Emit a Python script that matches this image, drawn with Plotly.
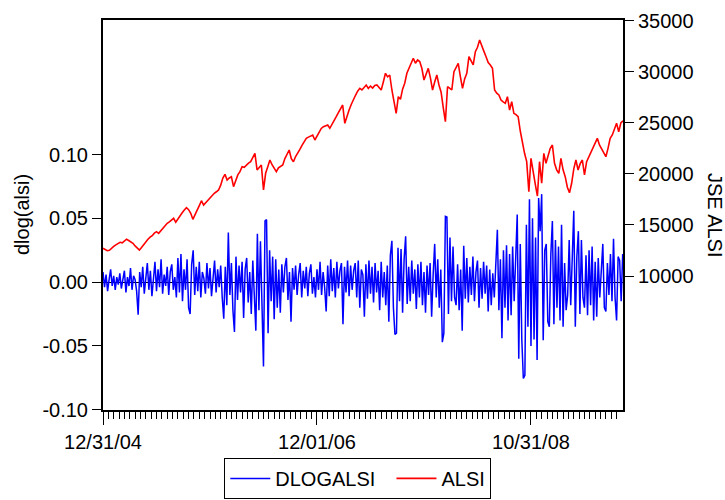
import pandas as pd
import plotly.graph_objects as go

# JSE All Share index, weekly closes from 31 Dec 2004
start_date = "2004-12-31"
alsi = [
    12715, 12600, 12480, 12520, 12750, 12900, 13050, 13150, 13300, 13250,
    13450, 13600, 13480, 13362, 13200, 12950, 12750, 12548, 12800, 13100,
    13362, 13600, 13800, 13950, 14200, 14340, 14184, 14450, 14650, 14900,
    15163, 15300, 15450, 15652, 15261, 15600, 15900, 16200, 16465, 16700,
    16500, 16142, 15555, 16100, 16450, 16900, 17375, 16955, 17200, 17450,
    17700, 17934, 18100, 18250, 18424, 18900, 19600, 19961, 19403, 19600,
    19726, 18747, 19300, 19900, 20216, 20705, 20650, 20900, 21050, 21195,
    21600, 22017, 20382, 20600, 20872, 18424, 20059, 20700, 21361, 20900,
    20500, 20216, 20600, 20700, 20872, 21500, 21851, 22340, 21500, 21195,
    21700, 22017, 22400, 22800, 23200, 23486, 23600, 23700, 23809, 23320,
    23700, 24100, 24450, 24622, 24700, 24788, 24465, 24900, 25300, 25601,
    26000, 26400, 26747, 24955, 25700, 26257, 26800, 27300, 27700, 28100,
    28377, 28216, 28500, 28705, 28377, 28600, 28400, 28650, 28705, 28500,
    28216, 29000, 29851, 29500, 29684, 28216, 27237, 25934, 27560, 27300,
    28300, 28872, 29851, 30300, 30900, 31320, 30830, 31153, 31000, 30340,
    29195, 29700, 30340, 29400, 28216, 29000, 29684, 28705, 28000, 26500,
    25112, 28539, 28400, 28216, 30008, 30500, 30830, 29518, 28377, 29300,
    29851, 31477, 31000, 30664, 31966, 32400, 33112, 32456, 32000, 31477,
    30900, 30664, 30340, 28216, 27900, 27726, 27237, 27050, 26913, 27560,
    26257, 27070, 25934, 25800, 25601, 24200, 23000, 22017, 21200, 18257,
    21528, 20059, 19000, 17836, 21195, 19080, 22017, 21038, 21800, 22500,
    22830, 21038, 20400, 20059, 21528, 20400, 19726, 18700, 18159, 19080,
    20500, 21361, 20382, 21000, 21361, 19894, 21200, 21684, 22200, 22663,
    23100, 23486, 22830, 22400, 22017, 21684, 22500, 23486, 23809, 24300,
    24955, 24132, 25000, 25200,
]

# log returns of the index, sampled every 5 days
dlogalsi = [
    0.008, -0.004, 0.006, -0.007, 0.002, 0.010, -0.003, 0.005, -0.006, 0.004,
    -0.002, 0.007, -0.005, 0.003, 0.009, -0.008, 0.004, -0.003, 0.011, -0.006,
    0.005, 0.002, -0.007, -0.0255, 0.008, -0.004, 0.012, -0.009, 0.006, 0.015,
    -0.006, 0.009, -0.011, 0.004, 0.016, -0.007, 0.010, -0.004, 0.018, -0.009,
    0.006, -0.003, 0.012, -0.010, 0.008, 0.014, -0.006, 0.004, -0.012, 0.019,
    -0.008, 0.022, -0.015, 0.010, -0.006, 0.018, -0.020, -0.025, 0.014, 0.025,
    -0.010, 0.012, -0.007, 0.016, -0.012, 0.008, 0.003, -0.009, 0.015, -0.005,
    0.011, -0.011, 0.006, 0.017, -0.008, 0.010, -0.004, 0.013, -0.012, -0.0287,
    0.012, -0.018, 0.039, -0.010, 0.015, -0.022, -0.039, 0.020, -0.014, 0.013,
    -0.008, 0.016, -0.028, 0.010, 0.019, -0.016, 0.008, -0.025, 0.017, -0.012,
    -0.038, 0.038, -0.022, 0.032, -0.030, -0.066, 0.048, 0.049, -0.040, 0.025,
    -0.015, 0.020, -0.029, 0.018, -0.020, 0.010, -0.024, 0.014, -0.008, 0.012,
    0.019, -0.014, 0.008, -0.031, 0.011, -0.006, 0.013, -0.010, 0.006, 0.015,
    -0.012, 0.009, -0.005, 0.012, -0.011, 0.007, 0.014, -0.009, 0.004, -0.012,
    0.010, -0.006, 0.016, -0.010, 0.008, -0.004, -0.023, 0.013, -0.011, 0.018,
    -0.007, 0.011, -0.012, 0.016, -0.005, 0.009, 0.015, -0.033, 0.012, -0.008,
    0.017, -0.011, 0.013, -0.006, 0.009, 0.015, -0.012, 0.017, -0.020, 0.010,
    0.006, -0.027, 0.014, -0.013, 0.017, -0.009, 0.012, -0.016, 0.015, -0.008,
    0.009, -0.022, 0.016, -0.012, 0.008, -0.018, 0.013, -0.031, 0.021, 0.0325,
    -0.020, -0.041, -0.040, 0.027, -0.015, 0.026, -0.024, 0.018, 0.036, -0.017,
    0.012, -0.015, 0.017, -0.009, 0.010, -0.021, 0.014, -0.012, 0.016, -0.018,
    0.008, -0.024, 0.013, -0.010, 0.015, -0.027, 0.006, 0.030, -0.012, 0.018,
    -0.020, 0.010, -0.047, -0.040, 0.0515, 0.051, -0.025, 0.035, -0.015, 0.028,
    -0.012, -0.018, 0.014, -0.022, 0.010, -0.038, 0.0285, -0.013, 0.019, -0.016,
    0.012, -0.010, 0.020, -0.015, 0.008, 0.017, -0.020, 0.011, -0.013, 0.016,
    -0.009, 0.013, -0.023, 0.010, -0.018, 0.007, -0.012, 0.014, 0.041, -0.022,
    0.018, -0.044, 0.025, -0.020, 0.029, -0.030, 0.022, -0.026, 0.028, -0.015,
    0.021, 0.053, -0.060, 0.030, -0.045, -0.0755, -0.073, 0.045, -0.035, 0.065,
    -0.050, 0.050, -0.045, 0.035, -0.061, 0.066, 0.040, 0.069, -0.0456, 0.025,
    0.030, -0.031, -0.035, 0.022, 0.048, -0.033, 0.033, -0.020, 0.028, -0.030,
    0.045, -0.035, 0.015, -0.022, -0.010, 0.033, -0.018, 0.012, 0.056, -0.035,
    0.020, 0.040, -0.025, 0.033, -0.012, -0.020, 0.021, -0.026, 0.025, -0.018,
    0.028, -0.030, 0.016, -0.027, 0.019, -0.012, 0.010, 0.030, -0.020, -0.023,
    0.015, -0.010, 0.022, -0.015, 0.034, -0.012, -0.030, 0.020, 0.017, -0.015,
    0.022,
]

left_ticks = [-0.10, -0.05, 0.00, 0.05, 0.10]
left_labels = ["-0.10", "-0.05", "0.00", "0.05", "0.10"]
right_ticks = [10000, 15000, 20000, 25000, 30000, 35000]
right_labels = ["10000", "15000", "20000", "25000", "30000", "35000"]
date_labels = {0: "12/31/04", 5: "12/01/06", 10: "10/31/08"}

alsi_dates = pd.date_range(start_date, periods=len(alsi), freq="7D")
dlog_dates = pd.date_range(start_date, periods=len(dlogalsi), freq="5D")

# axis ticks: a major tick every 140 days, eight minor steps between
t0 = pd.Timestamp(start_date)
major = [t0 + pd.Timedelta(days=140 * k) for k in range(13)]
major_text = [date_labels.get(k, "") for k in range(13)]
minor = [t0 + pd.Timedelta(hours=420 * k) for k in range(97)]
x_end = pd.Timestamp("2009-08-28")

FONT = "Liberation Sans, Arial, sans-serif"
NBSP = "\u00a0"

fig = go.Figure()
fig.add_trace(go.Scatter(
    x=dlog_dates, y=dlogalsi, name="DLOGALSI" + NBSP * 2, mode="lines",
    line=dict(color="#0000FF", width=1.5), yaxis="y",
))
fig.add_trace(go.Scatter(
    x=alsi_dates, y=alsi, name="ALSI", mode="lines",
    line=dict(color="#FF0000", width=1.6), yaxis="y2",
))

fig.update_layout(
    width=725, height=500, autosize=False,
    margin=dict(l=103, r=102, t=20, b=90, autoexpand=False),
    paper_bgcolor="white", plot_bgcolor="white",
    font=dict(family=FONT, size=20, color="black"),
    showlegend=True,
    legend=dict(
        orientation="h", x=0.49, xanchor="center", y=-0.228, yanchor="bottom",
        bordercolor="black", borderwidth=1, font=dict(size=20),
        itemwidth=40, tracegroupgap=0,
    ),
    xaxis=dict(
        type="date", range=[t0, x_end],
        tickmode="array", tickvals=major, ticktext=major_text,
        ticks="outside", ticklen=13, tickwidth=1, tickcolor="black",
        minor=dict(tickmode="array", tickvals=minor, ticks="outside",
                   ticklen=7, tickwidth=1, tickcolor="black", showgrid=False),
        showgrid=False, zeroline=False,
        showline=True, linecolor="black", linewidth=2, mirror=True,
        tickfont=dict(size=20), tickangle=0,
    ),
    yaxis=dict(
        range=[-0.1002, 0.2055], tickmode="array",
        tickvals=left_ticks, ticktext=left_labels,
        ticks="outside", ticklen=9, tickwidth=1, tickcolor="black",
        showgrid=False, zeroline=True, zerolinecolor="black", zerolinewidth=1,
        showline=True, linecolor="black", linewidth=2,
        tickfont=dict(size=20),
    ),
    yaxis2=dict(
        overlaying="y", side="right",
        range=[-3120, 35070], tickmode="array",
        tickvals=right_ticks, ticktext=right_labels,
        ticks="outside", ticklen=9, tickwidth=1, tickcolor="black",
        showgrid=False, zeroline=False,
        showline=True, linecolor="black", linewidth=2,
        tickfont=dict(size=20),
    ),
    annotations=[
        dict(text="dlog(alsi)", xref="paper", yref="paper", x=0, y=0.5,
             xshift=-81, textangle=-90, showarrow=False,
             xanchor="center", yanchor="middle", font=dict(size=20)),
        dict(text="JSE ALSI", xref="paper", yref="paper", x=1, y=0.5,
             xshift=92, textangle=90, showarrow=False,
             xanchor="center", yanchor="middle", font=dict(size=20)),
    ],
)

fig.write_html("out.html")
